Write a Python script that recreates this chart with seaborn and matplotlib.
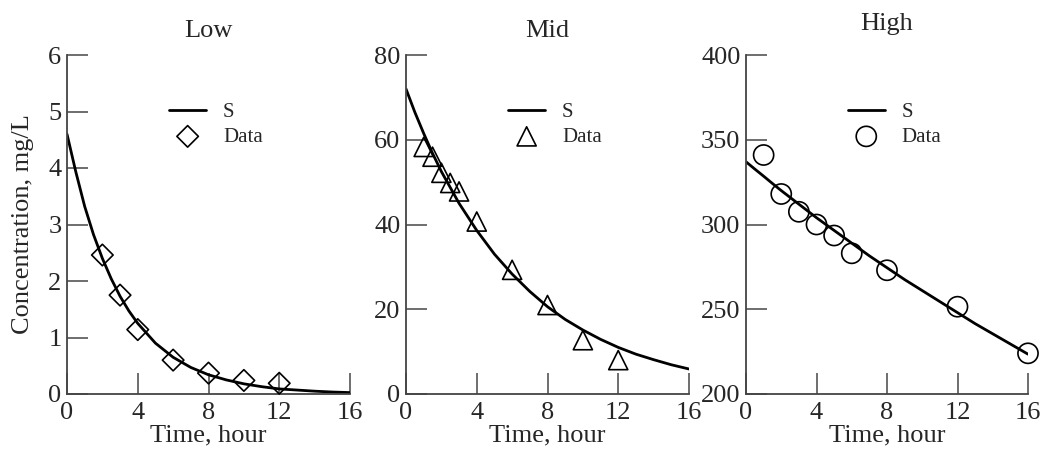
import matplotlib
matplotlib.use("Agg")
import matplotlib.pyplot as plt
import seaborn as sns

# fitted model curves
t_low_fit = [0, 0.5, 1, 1.5, 2, 2.5, 3, 3.5, 4, 5, 6, 7, 8, 9, 10, 11, 12, 13, 14, 15, 16]
low_fit = [4.6, 3.93, 3.32, 2.82, 2.4, 2.04, 1.73, 1.47, 1.25, 0.9, 0.65, 0.47, 0.34,
           0.25, 0.18, 0.13, 0.09, 0.07, 0.05, 0.035, 0.025]
t_fit = [0, 0.5, 1, 1.5, 2, 3, 4, 5, 6, 7, 8, 9, 10, 11, 12, 13, 14, 15, 16]
mid_fit = [72, 66.5, 61.5, 56.8, 52.5, 45, 38.6, 33, 28.3, 24.2, 20.6, 17.6, 15.1,
           12.9, 11.0, 9.4, 8.1, 6.9, 5.9]
high_fit = [337, 332.7, 328.5, 324.2, 320, 312, 304, 296.5, 289, 281.5, 274.5, 267.5, 261,
            254.5, 248, 241.5, 235.5, 229.5, 223.5]

# measured data
t_low = [2, 3, 4, 6, 8, 10, 12]
c_low = [2.46, 1.75, 1.14, 0.6, 0.37, 0.24, 0.19]
t_mid = [1, 1.5, 2, 2.5, 3, 4, 6, 8, 10, 12]
c_mid = [58.3, 56, 52.2, 49.8, 47.8, 40.7, 29.3, 21, 12.7, 8]
t_high = [1, 2, 3, 4, 5, 6, 8, 12, 16]
c_high = [341, 318, 307.5, 300, 293.5, 283, 273, 251.5, 224]

titles = ["Low", "Mid", "High"]
ylims = [(0, 6), (0, 80), (200, 400)]
yticks = [[0, 1, 2, 3, 4, 5, 6], [0, 20, 40, 60, 80], [200, 250, 300, 350, 400]]
xticks = [0, 4, 8, 12, 16]
markers = ["D", "^", "o"]
msizes = [120, 190, 210]
title_pads = [13, 13, 18]

sns.set_style("ticks")
plt.rcParams["font.family"] = ["Liberation Serif", "DejaVu Serif"]

W, H = 1042, 454
fig = plt.figure(figsize=(W / 100, H / 100), dpi=100)
lefts = [67, 406, 746]
widths = [283, 283, 282]
bottom, top = 394, 55

fits = [(t_low_fit, low_fit), (t_fit, mid_fit), (t_fit, high_fit)]
data = [(t_low, c_low), (t_mid, c_mid), (t_high, c_high)]

for i in range(3):
    ax = fig.add_axes([lefts[i] / W, (H - bottom) / H, widths[i] / W, (bottom - top) / H])
    sns.lineplot(x=fits[i][0], y=fits[i][1], ax=ax, color="black", linewidth=2.0, label="S")
    sns.scatterplot(x=data[i][0], y=data[i][1], ax=ax, marker=markers[i], s=msizes[i],
                    facecolor="none", edgecolor="black", linewidth=1.2, label="Data",
                    clip_on=False, zorder=3)
    ax.set_xlim(0, 16)
    ax.set_ylim(*ylims[i])
    ax.set_xticks(xticks)
    ax.set_yticks(yticks[i])
    ax.tick_params(direction="in", length=15, width=1.2, color="#555555",
                   labelsize=19, pad=4)
    ax.tick_params(axis="x", pad=6)
    for s in ["left", "bottom"]:
        ax.spines[s].set_linewidth(1.3)
        ax.spines[s].set_color("#444444")
    sns.despine(ax=ax)
    ax.set_title(titles[i], fontsize=19, pad=title_pads[i])
    ax.set_xlabel("Time, hour", fontsize=19, labelpad=0)
    if i == 0:
        ax.set_ylabel("Concentration, mg/L", fontsize=19, labelpad=10)
    else:
        ax.set_ylabel("")
    ax.legend(loc="upper left", bbox_to_anchor=(0.36, 0.86), frameon=False,
              fontsize=15, handlelength=1.8, handletextpad=0.8,
              labelspacing=0.25, borderpad=0, borderaxespad=0)

fig.savefig("out.png", dpi=100)
plt.close(fig)
